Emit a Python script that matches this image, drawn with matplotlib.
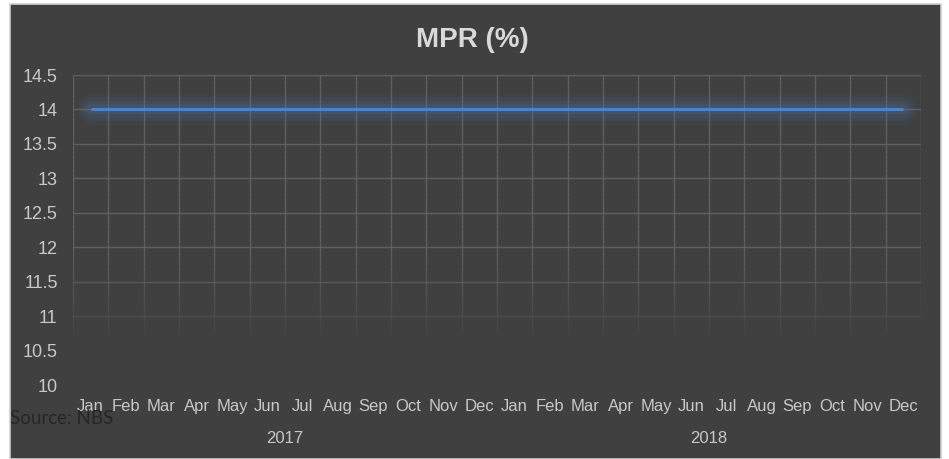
import numpy as np
import matplotlib
matplotlib.use("Agg")
import matplotlib.pyplot as plt
from matplotlib.patches import Rectangle
from matplotlib.collections import LineCollection

# Monetary policy rate, monthly 2017-2018
months = ['Jan', 'Feb', 'Mar', 'Apr', 'May', 'Jun', 'Jul', 'Aug', 'Sep', 'Oct', 'Nov', 'Dec']
years = ['2017', '2018']
mpr = [14, 14, 14, 14, 14, 14, 14, 14, 14, 14, 14, 14,
       14, 14, 14, 14, 14, 14, 14, 14, 14, 14, 14, 14]
yticks = [10, 10.5, 11, 11.5, 12, 12.5, 13, 13.5, 14, 14.5]

bg = '#404040'
grid_col = '#606060'
text_col = '#c8c8c8'
line_col = '#4f81c7'

plt.rcParams['font.family'] = ['Liberation Sans', 'DejaVu Sans']

fig = plt.figure(figsize=(9.49, 4.59), dpi=100)
fig.patch.set_facecolor('white')
# dark chart panel with light border
fig.patches.append(Rectangle((10 / 949, 0), 931 / 949, 1 - 4 / 459, transform=fig.transFigure,
                             facecolor=bg, edgecolor='#d0d0d0', linewidth=1.2, zorder=-10))

ax = fig.add_axes([73 / 949, 1 - 385 / 459, 848 / 949, 310 / 459])
ax.patch.set_alpha(0)
for s in ax.spines.values():
    s.set_visible(False)

n = len(mpr)
x = np.arange(n)
ax.set_xlim(-0.5, n - 0.5)
ax.set_ylim(10, 14.5)

# grid lines fade out toward the bottom
def fade(v):
    return float(np.clip((v - 10.6) / (11.9 - 10.6), 0, 1))

for v in yticks[1:]:
    ax.axhline(v, color=grid_col, lw=1, alpha=fade(v) * 0.9 + (0.1 if v > 10.6 else 0), zorder=1)
ys = np.linspace(10.5, 14.5, 60)
for b in np.arange(-0.5, n, 1.0):
    segs = [[(b, ys[i]), (b, ys[i + 1])] for i in range(len(ys) - 1)]
    alphas = [fade((ys[i] + ys[i + 1]) / 2) for i in range(len(ys) - 1)]
    cols = [matplotlib.colors.to_rgba(grid_col, a) for a in alphas]
    ax.add_collection(LineCollection(segs, colors=cols, linewidths=1, zorder=1))

# glow behind the line
for lw, a in [(22, 0.05), (17, 0.07), (12, 0.09), (7, 0.13)]:
    ax.plot(x, mpr, color=line_col, lw=lw, alpha=a, solid_capstyle='round', zorder=2)
ax.plot(x, mpr, color=line_col, lw=2.2, solid_capstyle='butt', zorder=3)

ax.set_yticks(yticks)
ax.set_yticklabels(['10', '10.5', '11', '11.5', '12', '12.5', '13', '13.5', '14', '14.5'])
ax.set_xticks(x)
ax.set_xticklabels(months * len(years))
ax.tick_params(axis='y', length=0, pad=11, labelsize=13, labelcolor=text_col)
ax.tick_params(axis='x', length=0, pad=10, labelsize=12, labelcolor=text_col)

for i, yr in enumerate(years):
    ax.text(i * 12 + 5.5, -0.172, yr, transform=ax.get_xaxis_transform(),
            ha='center', va='center', fontsize=12, color=text_col)

fig.text(472 / 949, 1 - 40 / 459, 'MPR (%)', ha='center', va='center',
         fontsize=20, fontweight='bold', color='#d9d9d9')
fig.text(10 / 949, 1 - 418 / 459, 'Source: NBS', ha='left', va='center',
         fontsize=13.5, color='#262626', family=['Lato', 'DejaVu Sans'])

fig.savefig('out.png', dpi=100, facecolor='white')
